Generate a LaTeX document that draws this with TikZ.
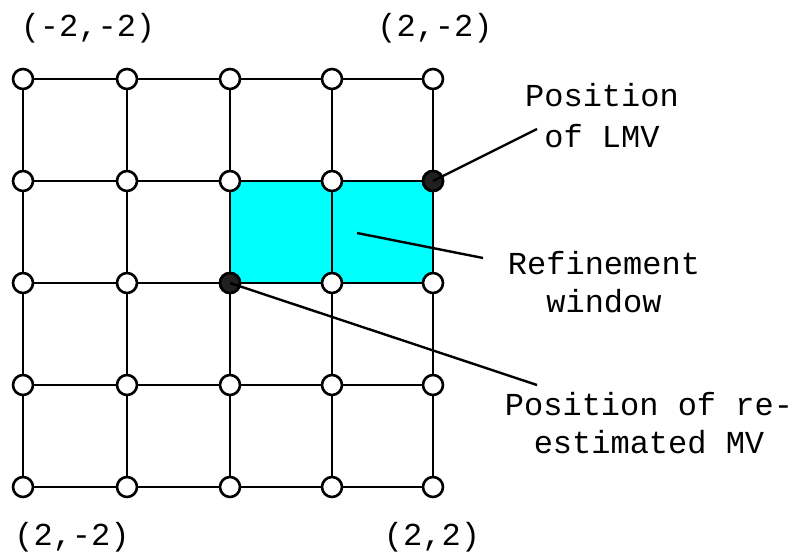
\documentclass[tikz,border=0pt]{standalone}
\usepackage{fontspec}
\setmainfont{Liberation Mono}
\definecolor{winfill}{RGB}{0,255,255}
\definecolor{dotfill}{RGB}{32,32,32}
\begin{document}
\begin{tikzpicture}[x=1pt,y=-1pt,
  gridline/.style={line width=2.9pt},
  opendot/.style={circle,draw,line width=2.6pt,fill=white,minimum size=20pt,inner sep=0pt},
  darkdot/.style={circle,draw,line width=2.6pt,fill=dotfill,minimum size=20pt,inner sep=0pt},
  leader/.style={line width=2.4pt},
  lbl/.style={font=\fontsize{32}{40}\selectfont,inner sep=0pt,anchor=base}]
\useasboundingbox (0,0) rectangle (808,553);
% grid point positions
\foreach \i/\x in {0/23,1/127,2/230,3/332,4/433}
  \foreach \j/\y in {0/79,1/181,2/283,3/385,4/487}
    \coordinate (c-\i-\j) at (\x,\y);
% refinement window
\fill[winfill] (c-2-1) rectangle (c-4-2);
% grid lines
\foreach \j in {0,...,4}
  \draw[gridline] (c-0-\j) -- (c-4-\j);
\foreach \i in {0,...,4}
  \draw[gridline] (c-\i-0) -- (c-\i-4);
% grid nodes
\foreach \i in {0,...,4}
  \foreach \j in {0,...,4}
    \node[opendot] (g-\i-\j) at (c-\i-\j) {};
\node[darkdot] (lmv) at (c-4-1) {};
\node[darkdot] (rmv) at (c-2-2) {};
% labels
\node[lbl] (tl) at (88,37) {(-2,-2)};
\node[lbl] (tr) at (435,37) {(2,-2)};
\node[lbl] (bl) at (72,545) {(2,-2)};
\node[lbl] (br) at (432,545) {(2,2)};
\node[lbl] (lmvA) at (602,107) {Position};
\node[lbl] (lmvB) at (602,148) {of LMV};
\node[lbl] (refA) at (604,275) {Refinement};
\node[lbl] (refB) at (604,312) {window};
\node[lbl] (remA) at (649,415) {Position of re-};
\node[lbl] (remB) at (649,453) {estimated MV};
% leader lines
\coordinate (lmvEnd) at (537,129);
\coordinate (refStart) at (357,233);
\coordinate (refEnd) at (483,258);
\coordinate (remEnd) at (537,385);
\draw[leader] (lmv.center) -- (lmvEnd);
\draw[leader] (refStart) -- (refEnd);
\draw[leader] (rmv.center) -- (remEnd);
\end{tikzpicture}
\end{document}
